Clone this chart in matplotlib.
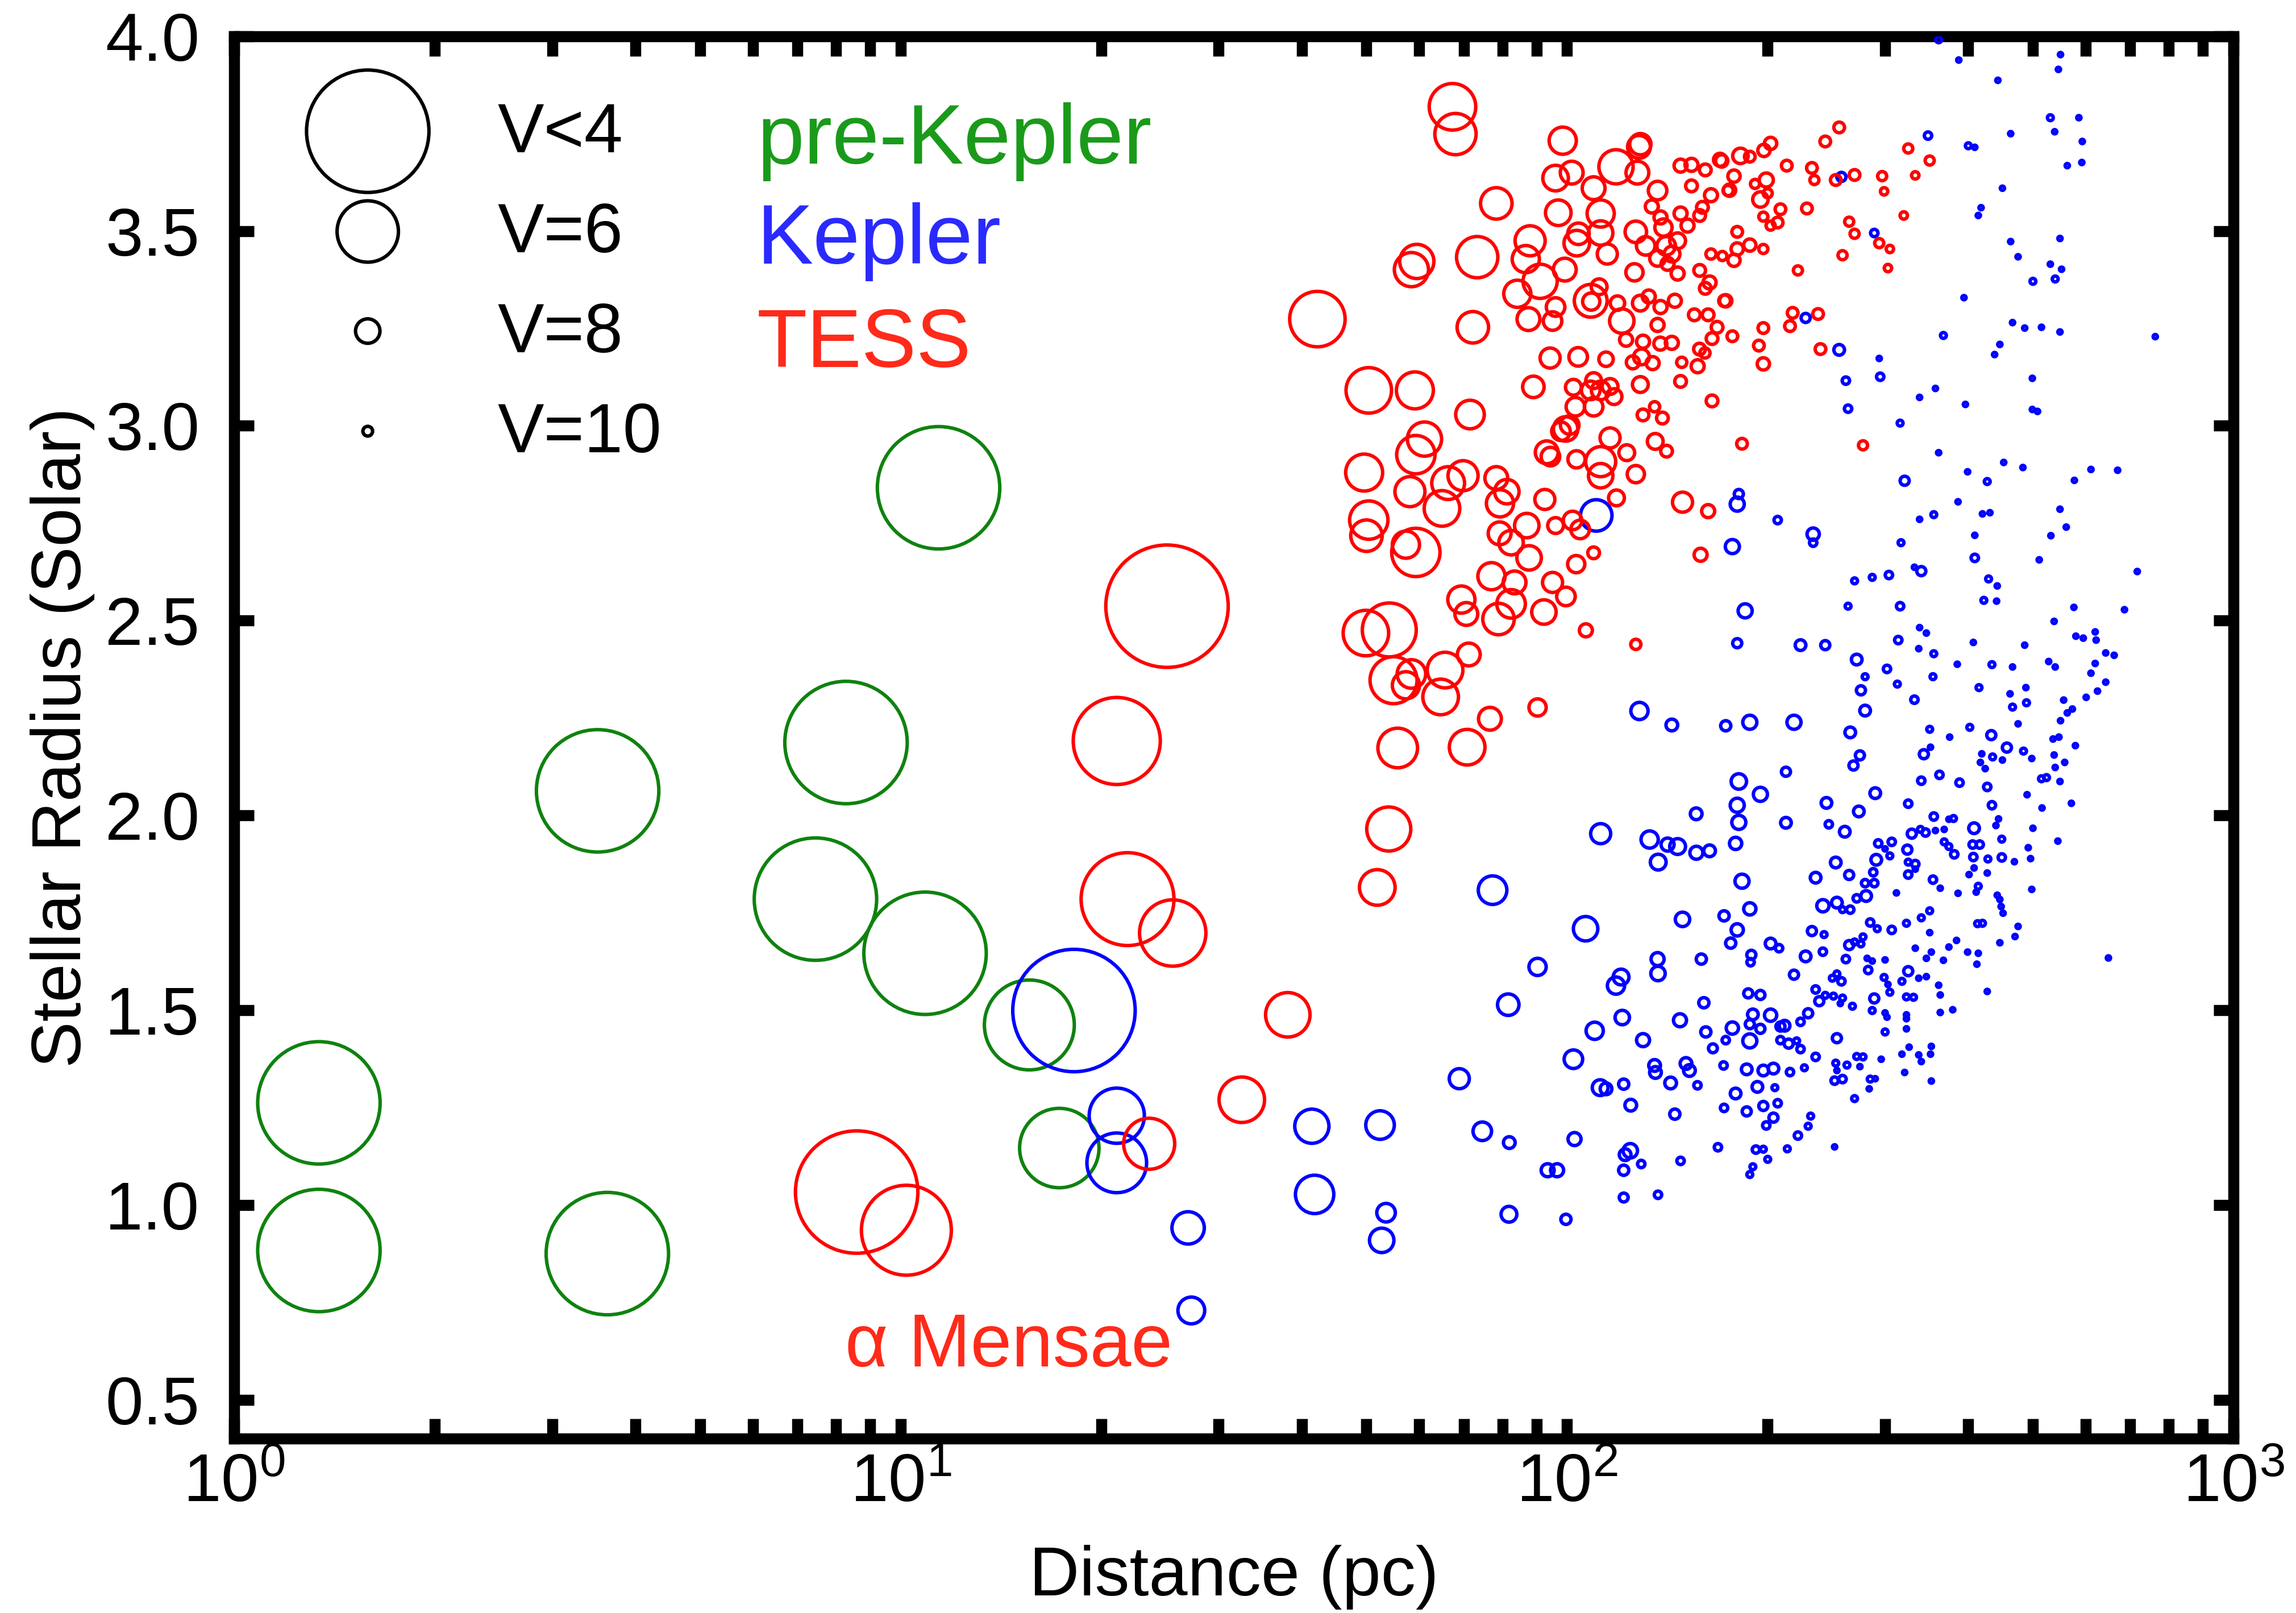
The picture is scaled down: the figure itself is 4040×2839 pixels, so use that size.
import numpy as np
import matplotlib
matplotlib.use("Agg")
import matplotlib.pyplot as plt
from matplotlib.ticker import LogLocator, NullFormatter, FixedLocator

plt.rcParams['font.family'] = ['Liberation Sans', 'DejaVu Sans']
plt.rcParams['mathtext.default'] = 'regular'

DPI = 200

# ---- pre-Kepler hosts ----
prekepler_dist = [1.34, 1.34, 3.51, 3.63, 8.28, 7.45, 10.88, 11.4, 15.6, 17.3]
prekepler_radius = [1.262, 0.883, 2.063, 0.875, 2.187, 1.785, 1.646, 2.841, 1.462, 1.146]
prekepler_vmag = [4.5, 4.5, 4.5, 4.5, 4.5, 4.5, 4.5, 4.5, 5.17, 5.44]

# ---- TESS targets ----
tess_dist = [
    25.1, 21.1, 21.9, 25.6, 8.59, 10.2, 23.6, 32.5, 38.1,
    67.3, 68.0, 78.3, 73.3, 59.5, 58.4, 42.2, 72.2, 98.5, 96.1,
    101.6, 97.0, 88.0, 86.7, 91.1, 84.2, 99.2, 103.4, 104, 96.1,
    95.1, 87.5, 109.6, 112.3, 112.3, 114.9, 118.4, 127.5, 128.2, 128.8,
    136.7, 108.5, 108.7, 111.7, 119, 120.8, 128.8, 132.6, 138.1, 145.1,
    126.2, 126.8, 131.2, 140.8, 146.5, 134, 138.1, 139.5, 148, 151.6,
    141.5, 146.5, 148, 153.7, 161.2, 169.6, 153.7, 164.4, 159.6, 158.1,
    174.4, 158.1, 163.6, 161.2, 164.4, 155.2, 162.8, 172.3, 136.7, 136.7,
    143.7, 167.9,
    256, 244, 202, 197.4, 182, 188, 170.6, 213.6, 233, 325,
    350, 178, 199, 191.4, 175.3, 235, 253, 270, 297, 333,
    299, 195, 200, 209, 229, 197, 207, 202, 180, 188,
    180, 178, 171, 197, 222, 259, 265, 270, 294, 305,
    303, 320, 173, 218, 238, 216, 197, 177,
    194, 240, 197, 183, 278,
    49.9, 54.1, 50.4, 59.1, 71.5, 61.1, 59.3, 49.6, 58.1, 66.3,
    69.8, 64.9, 50.4, 50.0, 59.3, 57.3, 78.3, 81.2, 79.3, 79.2,
    82.4, 87.0, 87.7, 77.0, 83.4, 69.4, 70.6, 78.9, 82.4, 92.3,
    95.1, 99.6, 92.6, 96.1, 101.9, 104.6, 103.2, 109.6, 106.7, 126.8,
    149, 162.8, 158.6, 118.6, 112.3, 112.3, 103.3, 122.9, 126.8, 116,
    93.2, 94.4, 99.5, 100.9, 97.9, 102.9, 109.6, 108.5, 112.3, 116,
    117.6, 109.6, 102.2, 89, 94.3, 103.9, 114.4, 128.8, 130, 135.3,
    139, 135.6, 141, 148, 148.6, 157, 158, 161, 165, 165,
    129.3, 134.4, 125.5, 130, 138, 143.6, 122.6,
    54.9, 57.3, 58.4, 65.6, 64.6, 71.2, 76.6, 90.3, 55.7, 70.8, 54.0, 51.9,
]
tess_radius = [
    2.537, 2.191, 1.785, 1.698, 1.033, 0.935, 1.157, 1.270, 1.488,
    3.819, 3.749, 3.571, 3.433, 3.422, 3.401, 3.274, 3.253, 3.732, 3.636,
    3.650, 3.547, 3.475, 3.428, 3.371, 3.339, 3.401, 3.469, 3.493, 3.305,
    3.269, 3.274, 3.610, 3.545, 3.495, 3.441, 3.665, 3.650, 3.716, 3.723,
    3.604, 3.321, 3.319, 3.357, 3.315, 3.269, 3.315, 3.332, 3.305, 3.321,
    3.394, 3.498, 3.462, 3.462, 3.475, 3.563, 3.535, 3.509, 3.545, 3.514,
    3.416, 3.391, 3.668, 3.670, 3.657, 3.683, 3.616, 3.592, 3.561, 3.540,
    3.604, 3.399, 3.368, 3.353, 3.441, 3.285, 3.285, 3.321, 3.259, 3.430,
    3.441, 3.253,
    3.766, 3.730, 3.725, 3.707, 3.693, 3.691, 3.680, 3.668, 3.662, 3.712,
    3.681, 3.641, 3.631, 3.621, 3.605, 3.631, 3.631, 3.644, 3.641, 3.643,
    3.602, 3.581, 3.597, 3.556, 3.558, 3.537, 3.522, 3.514, 3.498, 3.464,
    3.454, 3.425, 3.436, 3.454, 3.399, 3.438, 3.524, 3.493, 3.469, 3.454,
    3.405, 3.540, 3.321, 3.290, 3.287, 3.256, 3.251, 3.230,
    3.206, 3.197, 3.159, 2.954, 2.950,
    2.468, 2.476, 3.091, 3.091, 3.029, 2.966, 2.926, 2.880, 2.831, 2.853,
    2.872, 2.788, 2.758, 2.718, 2.675, 2.695, 2.866, 2.831, 2.801, 2.724,
    2.700, 2.744, 2.661, 2.614, 2.598, 2.554, 2.517, 2.504, 2.543, 2.522,
    2.598, 2.562, 2.811, 2.744, 2.757, 2.734, 2.645, 2.674, 2.475, 2.439,
    2.804, 2.781, 2.669, 2.815, 2.908, 2.872, 2.914, 2.931, 2.876, 2.969,
    2.932, 2.921, 2.992, 3.002, 2.986, 3.049, 3.049, 3.091, 3.091, 3.101,
    3.075, 3.116, 3.099, 3.100, 3.174, 3.177, 3.171, 3.106, 3.028, 3.049,
    3.020, 2.960, 2.935, 3.114, 3.163, 3.153, 3.197, 3.187, 3.224, 3.064,
    3.177, 3.161, 3.163, 3.216, 3.211, 3.213, 3.221,
    2.347, 2.334, 2.363, 2.373, 2.304, 2.413, 2.248, 2.277, 2.173, 2.175, 1.965, 1.815,
]
tess_vmag = [
    4.5, 5.24, 5.1, 5.83, 4.5, 5.17, 6.4, 6.65, 6.7,
    6.6, 6.86, 7.45, 6.86, 7.27, 7.27, 6.22, 7.45, 7.77, 7.9,
    8.15, 7.9, 7.55, 7.77, 7.27, 7.77, 8.15, 7.9, 8.28, 8.6,
    8.6, 8.15, 8.15, 7.77, 8.0, 8.43, 7.27, 8.15, 8.15, 8.3,
    8.6, 7.36, 8.76, 8.95, 9.15, 8.0, 8.95, 9.37, 9.37, 9.37,
    8.76, 8.28, 8.6, 8.6, 8.95, 9.37, 9.37, 8.76, 9.37, 9.37,
    9.37, 9.37, 9.37, 9.37, 9.6, 9.37, 9.6, 9.37, 9.6, 9.6,
    9.9, 9.6, 9.37, 9.6, 9.9, 9.6, 9.6, 9.6, 9.37, 8.95,
    8.95, 9.6,
    9.8, 9.8, 9.5, 9.5, 9.0, 9.8, 9.5, 9.8, 9.8, 10.15,
    10.15, 9.5, 9.2, 10.15, 9.5, 10.15, 9.8, 9.8, 10.15, 10.6,
    10.6, 9.0, 10.15, 9.8, 9.8, 10.15, 9.8, 10.15, 9.8, 9.5,
    9.5, 9.5, 10.15, 10.15, 10.15, 10.15, 10.15, 10.15, 10.15, 10.6,
    10.6, 10.6, 9.5, 9.8, 9.8, 9.8, 9.8, 9.8,
    9.8, 9.8, 9.5, 9.8, 10.15,
    6.65, 6.28, 6.65, 7.1, 7.66, 7.27, 7.02, 7.1, 7.55, 7.36,
    7.55, 7.18, 7.02, 7.45, 6.52, 7.77, 8.15, 8.0, 7.77, 8.15,
    8.0, 8.0, 8.0, 7.77, 8.15, 7.77, 8.15, 7.45, 7.66, 8.0,
    8.43, 8.6, 8.43, 8.95, 8.6, 8.6, 8.76, 9.6, 9.37, 9.9,
    8.43, 9.37, 9.37, 8.95, 7.55, 8.0, 8.76, 8.95, 8.76, 8.43,
    8.15, 8.6, 8.0, 8.6, 8.6, 8.6, 8.6, 8.6, 8.6, 8.95,
    8.95, 8.95, 8.95, 8.28, 8.43, 8.6, 9.15, 8.95, 9.6, 9.9,
    9.6, 8.95, 9.6, 9.6, 9.9, 9.37, 9.6, 9.9, 9.6, 9.6,
    8.95, 9.37, 9.37, 9.37, 9.37, 9.37, 9.37,
    6.58, 7.77, 7.66, 7.18, 7.18, 8.15, 8.15, 8.76, 6.95, 7.18, 6.72, 7.18,
]

# ---- Kepler targets ----
kepler_dist = [
    18.2, 21.1, 21.1, 27.0, 27.3, 41.4, 41.8, 52.4, 53.5, 52.7,
    68.9, 74.6, 77.3, 81.8, 81.6, 90.3, 110.6,
    128.4, 143.6, 173, 112.3, 133, 141.5, 146.5, 137, 156.3, 163.6,
    156.2, 106.6, 149, 172, 176, 136.7, 159,
    120.5, 118.4, 136.9, 121, 110, 160.4, 147.7, 130, 102.2, 161.5,
    165.5, 173, 135.3, 135.7, 150.8, 152.6, 171.7, 143, 112.1, 114.4,
    121.6, 156.9, 124.6, 145.1, 172, 81.9, 102.6, 124.4, 122.2, 129.2,
    121.6, 148, 168.4, 93.5, 96.6, 99.6, 121.6, 136.9,
    361, 387, 550, 546, 443, 531, 586, 463, 539, 593,
    348, 400, 409, 563, 592, 258, 450, 418, 414, 289,
    463, 549, 475, 531, 552, 500, 540, 394, 228, 466,
    486, 515, 549, 367, 763,
    256, 294, 446, 438, 262, 295, 357, 338, 396, 499,
    499, 508, 264, 316, 361, 452, 483, 611, 670, 399,
    577, 321, 427, 181, 180, 386, 207, 338, 355, 420,
    431, 549, 234, 234, 177, 409, 532, 561, 317, 409,
    511, 717, 270, 287, 304, 332, 340, 429, 442, 185,
    264, 316, 422, 441, 576, 686, 538, 338, 346, 580,
    595, 620, 622, 314, 180, 224, 244, 407, 486,
    337, 355, 643, 662, 620, 611, 528, 540, 466, 434,
    385, 272, 302, 280, 354, 313, 276, 415, 488, 462,
    643, 625, 601, 556, 489, 466, 332, 280, 573, 563,
    550, 475, 188, 219, 266, 350, 375, 402, 433, 536,
    547, 579, 457, 351, 343, 419, 435, 450, 484, 498,
    538, 558, 417, 424, 540, 275, 269, 213, 362, 340,
    388, 427, 515, 524, 549, 181, 195, 290, 490, 571,
    180, 245, 325, 434, 516, 274, 181, 213, 247, 355,
    374, 380, 444, 440, 500, 261, 329, 339, 345, 357,
    368, 408, 545, 449, 179, 293, 307, 300, 324, 368,
    374, 381, 406, 416, 492, 253, 291, 305, 325, 333,
    407, 428, 449, 469, 496, 236, 265, 288, 325, 333,
    408, 401, 427, 354, 183, 280, 289, 363, 414, 411,
    498, 312, 386, 442, 446, 281, 272, 242, 254, 259,
    266, 448, 451, 350, 340, 188, 180, 285, 292, 323,
    307, 350, 420, 413, 475, 470, 446, 233, 243, 202,
    208, 265, 270, 278, 276, 333, 374, 384,
    189, 188.5, 228, 242, 262, 282, 287, 300, 346, 352,
    367, 399, 414, 412, 649, 219, 283, 250, 254, 258,
    299, 325, 318, 337, 346, 303, 305, 361, 363, 427,
    187, 195, 236, 239, 244, 251, 259, 257, 268, 289,
    323, 331, 190, 202, 230, 188, 195, 177, 212, 209,
    224, 287, 300, 302, 323, 323, 363, 379, 300, 323,
    188, 209, 215, 221, 224, 254, 326, 352, 318, 337,
    351, 340, 236, 272, 278, 275, 296, 253, 263, 254,
    186, 197, 204, 216, 227, 252, 259, 285, 290, 321,
    352, 284, 193, 205, 179, 270, 186, 197, 207, 204,
    199, 232, 230, 222, 192, 197, 214, 252, 200, 190,
    188,
]
kepler_radius = [
    1.499, 1.229, 1.108, 0.941, 0.729, 1.202, 1.027, 1.205, 0.980, 0.909,
    1.324, 1.189, 1.808, 0.976, 1.514, 1.611, 2.770,
    2.268, 2.232, 2.230, 1.953, 1.938, 1.925, 1.920, 1.880, 1.904, 1.909,
    2.004, 1.709, 1.733, 1.742, 1.672, 1.631, 1.631,
    1.585, 1.563, 1.594, 1.481, 1.447, 1.519, 1.474, 1.423, 1.374, 1.444,
    1.402, 1.423, 1.358, 1.340, 1.363, 1.345, 1.358, 1.313, 1.301, 1.298,
    1.310, 1.307, 1.256, 1.233, 1.249, 1.160, 1.169, 1.139, 1.129, 1.105,
    1.089, 1.113, 1.148, 1.089, 1.089, 0.963, 1.019, 1.026,
    3.991, 3.939, 3.953, 3.915, 3.887, 3.791, 3.791, 3.750, 3.755, 3.730,
    3.745, 3.719, 3.715, 3.668, 3.676, 3.639, 3.610, 3.560, 3.540, 3.495,
    3.473, 3.481, 3.434, 3.415, 3.402, 3.371, 3.377, 3.329, 3.277, 3.265,
    3.251, 3.253, 3.241, 3.232, 3.229,
    3.195, 3.173, 3.209, 3.183, 3.116, 3.126, 3.096, 3.073, 3.055, 3.122,
    3.042, 3.037, 3.044, 3.007, 2.931, 2.906, 2.893, 2.888, 2.886, 2.882,
    2.860, 2.859, 2.857, 2.825, 2.799, 2.805, 2.758, 2.760, 2.772, 2.774,
    2.777, 2.786, 2.722, 2.700, 2.690, 2.719, 2.718, 2.740, 2.700, 2.661,
    2.656, 2.626, 2.602, 2.611, 2.617, 2.637, 2.627, 2.607, 2.589, 2.525,
    2.537, 2.537, 2.552, 2.550, 2.534, 2.528, 2.498, 2.482, 2.468, 2.460,
    2.455, 2.471, 2.450, 2.450, 2.442, 2.437, 2.437, 2.444, 2.437,
    2.428, 2.415, 2.417, 2.411, 2.390, 2.365, 2.395, 2.381, 2.381, 2.387,
    2.388, 2.400, 2.376, 2.356, 2.356, 2.337, 2.321, 2.328, 2.328, 2.312,
    2.342, 2.319, 2.303, 2.296, 2.289, 2.278, 2.297, 2.269, 2.273, 2.263,
    2.243, 2.235, 2.239, 2.239, 2.213, 2.221, 2.201, 2.226, 2.206, 2.196,
    2.201, 2.179, 2.174, 2.175, 2.157, 2.158, 2.150, 2.142, 2.165, 2.146,
    2.155, 2.136, 2.136, 2.120, 2.123, 2.154, 2.128, 2.112, 2.104, 2.089,
    2.084, 2.073, 2.094, 2.097, 2.087, 2.087, 2.054, 2.057, 2.053, 2.031,
    2.026, 2.032, 2.030, 2.026, 2.019, 2.010, 1.982, 1.981, 1.977, 1.997,
    1.990, 1.992, 1.991, 1.974, 1.967, 1.958, 1.953, 1.964, 1.956, 1.961,
    1.964, 1.967, 1.934, 1.939, 1.928, 1.928, 1.932, 1.914, 1.912, 1.932,
    1.920, 1.900, 1.925, 1.925, 1.917, 1.879, 1.886, 1.896, 1.880, 1.875,
    1.893, 1.888, 1.892, 1.881, 1.889, 1.840, 1.847, 1.854, 1.848, 1.862,
    1.865, 1.848, 1.852, 1.835, 1.831, 1.826, 1.826, 1.813, 1.818, 1.803,
    1.810, 1.801, 1.800, 1.795, 1.784, 1.793, 1.787, 1.768, 1.776, 1.758,
    1.758, 1.766, 1.749, 1.755, 1.737, 1.760, 1.706, 1.725, 1.709, 1.723,
    1.706, 1.699, 1.723, 1.722, 1.715, 1.689, 1.673, 1.703, 1.694, 1.671,
    1.659, 1.667, 1.675, 1.688, 1.670, 1.659, 1.662, 1.679,
    1.642, 1.623, 1.638, 1.650, 1.631, 1.633, 1.626, 1.629, 1.633, 1.649,
    1.628, 1.649, 1.646, 1.618, 1.634, 1.591, 1.603, 1.582, 1.593, 1.574,
    1.584, 1.600, 1.574, 1.582, 1.586, 1.566, 1.546, 1.564, 1.539, 1.548,
    1.543, 1.539, 1.553, 1.523, 1.538, 1.536, 1.531, 1.517, 1.510, 1.530,
    1.534, 1.533, 1.489, 1.487, 1.492, 1.464, 1.452, 1.454, 1.460, 1.458,
    1.470, 1.499, 1.493, 1.482, 1.488, 1.478, 1.494, 1.501, 1.444, 1.452,
    1.421, 1.423, 1.414, 1.421, 1.400, 1.428, 1.405, 1.407, 1.387, 1.385,
    1.387, 1.368, 1.380, 1.381, 1.380, 1.355, 1.374, 1.364, 1.359, 1.345,
    1.348, 1.345, 1.350, 1.341, 1.352, 1.319, 1.323, 1.323, 1.324, 1.340,
    1.318, 1.298, 1.303, 1.301, 1.286, 1.273, 1.240, 1.254, 1.261, 1.224,
    1.204, 1.228, 1.202, 1.178, 1.142, 1.143, 1.144, 1.149, 1.117, 1.098,
    1.078,
]
kepler_vmag = [
    4.5, 6.23, 6.06, 7.39, 7.8, 7.27, 7.02, 7.66, 8.6, 8.0,
    8.43, 8.6, 7.66, 8.95, 8.28, 8.76, 7.45,
    8.76, 9.6, 9.9, 8.43, 8.76, 9.37, 8.95, 8.95, 9.37, 9.6,
    9.6, 8.0, 9.15, 9.9, 9.9, 9.37, 9.9,
    8.95, 8.76, 9.15, 9.15, 8.76, 9.9, 9.37, 9.37, 8.6, 9.9,
    10.2, 10.6, 9.6, 9.6, 9.6, 9.6, 10.6, 9.6, 8.95, 9.6,
    9.9, 10.6, 9.6, 9.9, 10.6, 9.6, 9.37, 9.15, 9.6, 10.6,
    9.9, 10.6, 10.6, 9.37, 9.37, 9.9, 10.2, 10.6,
    11.1, 11.8, 11.8, 11.8, 11.8, 11.1, 11.8, 11.8, 11.8, 11.8,
    10.6, 11.1, 11.8, 11.8, 11.8, 10.15, 11.8, 11.8, 11.8, 10.6,
    11.8, 11.8, 11.8, 11.8, 11.8, 11.1, 11.1, 11.8, 10.15, 11.8,
    11.8, 11.8, 11.8, 11.1, 11.8,
    9.8, 11.8, 11.8, 11.8, 10.6, 10.6, 11.8, 11.8, 11.8, 11.8,
    11.8, 11.8, 10.6, 11.1, 11.8, 11.8, 11.8, 11.8, 11.8, 11.8,
    11.8, 10.15, 11.1, 10.15, 9.2, 11.8, 10.6, 11.8, 11.1, 11.8,
    11.8, 11.8, 9.5, 10.6, 9.2, 11.8, 11.8, 11.8, 11.1, 10.6,
    11.8, 11.8, 11.1, 11.1, 10.6, 11.8, 10.15, 11.1, 11.8, 9.2,
    11.1, 10.6, 11.1, 11.8, 11.8, 11.8, 11.8, 11.8, 11.8, 11.8,
    11.8, 11.8, 11.8, 10.6, 10.15, 9.8, 10.15, 11.8, 11.8,
    11.8, 11.1, 11.8, 11.8, 11.8, 11.8, 11.8, 11.8, 11.8, 11.1,
    11.8, 9.8, 10.6, 11.1, 11.1, 11.1, 10.15, 11.1, 11.8, 11.8,
    11.8, 11.8, 11.8, 11.8, 11.1, 11.1, 10.6, 9.8, 11.8, 11.8,
    11.8, 11.8, 9.2, 9.2, 9.8, 11.1, 11.8, 11.1, 10.15, 11.8,
    11.8, 11.8, 10.15, 11.8, 10.15, 11.8, 11.1, 11.8, 11.1, 11.8,
    11.8, 11.8, 11.8, 11.8, 11.8, 10.15, 10.15, 10.15, 10.6, 10.6,
    10.6, 10.6, 11.1, 11.1, 11.8, 9.0, 9.2, 9.8, 11.8, 11.8,
    9.2, 9.8, 10.6, 10.6, 11.8, 9.8, 9.2, 9.8, 10.6, 10.6,
    11.8, 11.1, 11.8, 11.8, 11.8, 9.8, 10.15, 11.1, 10.6, 11.8,
    11.8, 9.8, 11.8, 11.1, 9.5, 10.6, 10.6, 11.8, 10.15, 11.1,
    11.1, 10.6, 10.6, 10.6, 11.8, 9.8, 9.8, 11.1, 11.1, 10.6,
    10.6, 11.1, 10.6, 11.8, 11.8, 9.8, 10.15, 10.6, 10.6, 11.8,
    11.8, 11.8, 11.8, 10.6, 9.2, 10.6, 10.6, 11.8, 11.1, 11.8,
    11.8, 11.8, 11.8, 11.8, 11.8, 9.8, 10.6, 9.5, 9.8, 11.1,
    10.6, 11.8, 11.8, 11.1, 11.1, 9.5, 9.5, 10.6, 11.1, 11.1,
    10.6, 11.8, 11.1, 11.1, 11.8, 11.8, 11.8, 10.15, 11.1, 9.8,
    10.6, 10.15, 11.1, 11.1, 11.1, 11.8, 11.8, 11.8,
    10.15, 10.6, 9.8, 10.6, 10.6, 11.8, 11.8, 11.8, 11.8, 11.8,
    11.8, 11.8, 11.8, 11.8, 11.8, 10.15, 10.6, 11.1, 11.1, 10.6,
    11.1, 10.15, 11.1, 11.8, 11.8, 11.8, 11.1, 11.8, 11.8, 11.8,
    10.15, 10.15, 10.6, 10.15, 11.1, 11.1, 11.1, 11.8, 11.1, 10.15,
    11.1, 11.1, 9.8, 9.5, 10.15, 10.15, 10.15, 9.5, 9.8, 10.15,
    10.6, 11.1, 11.8, 11.8, 11.8, 11.8, 11.8, 11.8, 11.1, 11.8,
    9.2, 10.6, 10.15, 11.1, 10.6, 10.15, 11.8, 11.8, 11.8, 11.8,
    11.8, 11.8, 10.6, 11.1, 11.1, 11.8, 11.8, 11.1, 11.1, 11.8,
    9.8, 9.8, 9.8, 10.6, 11.1, 10.6, 10.6, 11.1, 11.8, 11.8,
    11.8, 11.8, 9.8, 11.1, 9.8, 11.1, 10.15, 10.15, 10.6, 10.15,
    10.6, 11.1, 11.1, 10.6, 10.6, 11.1, 11.1, 11.8, 11.1, 11.1,
    11.1,
]

# legend entries (marker sizes keyed by V magnitude)
legend_vmag = [4.5, 6, 8, 10]
legend_labels = ["V<4", "V=6", "V=8", "V=10"]

assert len(tess_dist) == len(tess_radius) == len(tess_vmag)
assert len(kepler_dist) == len(kepler_radius) == len(kepler_vmag)


def vmag_to_size(v):
    # marker diameter ~ sqrt(flux), capped for the brightest stars
    v = np.clip(np.asarray(v, dtype=float), 4.5, None)
    d_px = 1711.0 * 10 ** (-0.2 * v)
    return (d_px * 72.0 / DPI) ** 2


LW = 2.2
fig = plt.figure(figsize=(4040 / DPI, 2839 / DPI), dpi=DPI)
ax = fig.add_axes([0.102, 0.1081, 0.8708, 0.8694])

ax.scatter(prekepler_dist, prekepler_radius, s=vmag_to_size(prekepler_vmag),
           facecolors='none', edgecolors='#0f820f', linewidths=LW, zorder=3)
ax.scatter(kepler_dist, kepler_radius, s=vmag_to_size(kepler_vmag),
           facecolors='none', edgecolors='#0000ff', linewidths=LW, zorder=3)
ax.scatter(tess_dist, tess_radius, s=vmag_to_size(tess_vmag),
           facecolors='none', edgecolors='#ff0000', linewidths=LW, zorder=4)

ax.set_xscale('log')
ax.set_xlim(1, 1000)
ax.set_ylim(0.4, 4.0)
ax.xaxis.set_major_locator(LogLocator(base=10, numticks=10))
ax.xaxis.set_minor_locator(LogLocator(base=10, subs=np.arange(2, 10), numticks=20))
ax.xaxis.set_minor_formatter(NullFormatter())
ax.yaxis.set_major_locator(FixedLocator(np.arange(0.5, 4.01, 0.5)))
ax.yaxis.set_major_formatter(plt.FuncFormatter(lambda v, p: f"{v:.1f}"))

for sp in ax.spines.values():
    sp.set_linewidth(7)
ax.tick_params(which='both', direction='in', top=True, right=True,
               width=7, length=12.5, labelsize=43)
ax.tick_params(axis='x', which='both', pad=9)
ax.tick_params(axis='y', which='both', pad=22)

ax.set_xlabel('Distance (pc)', fontsize=44)
ax.set_ylabel('Stellar Radius (Solar)', fontsize=44)
ax.xaxis.label.set_va('baseline')
ax.yaxis.label.set_va('baseline')
ax.xaxis.set_label_coords(0.5, -0.1118)
ax.yaxis.set_label_coords(-0.0768, 0.5)

# size legend
leg_y = [0.9323, 0.8608, 0.7898, 0.7184]
ax.scatter([0.0668] * 4, leg_y, s=vmag_to_size(legend_vmag), facecolors='none',
           edgecolors='black', linewidths=LW, transform=ax.transAxes, zorder=5)
for yy, lab in zip(leg_y, legend_labels):
    ax.text(0.1316, yy - 0.0150, lab, transform=ax.transAxes, fontsize=44,
            va='baseline', ha='left')

# mission labels
ax.text(0.2615, 0.909, 'pre-Kepler', color='#1a9a1a', fontsize=53.5,
        transform=ax.transAxes, va='baseline')
ax.text(0.2615, 0.838, 'Kepler', color='#2a2aff', fontsize=53.5,
        transform=ax.transAxes, va='baseline')
ax.text(0.2615, 0.764, 'TESS', color='#ff2a1a', fontsize=52,
        transform=ax.transAxes, va='baseline')
ax.text(0.3055, 0.0515, 'α Mensae', color='#ff2a1a', fontsize=47,
        transform=ax.transAxes, va='baseline')

fig.savefig('out.png', dpi=DPI)
